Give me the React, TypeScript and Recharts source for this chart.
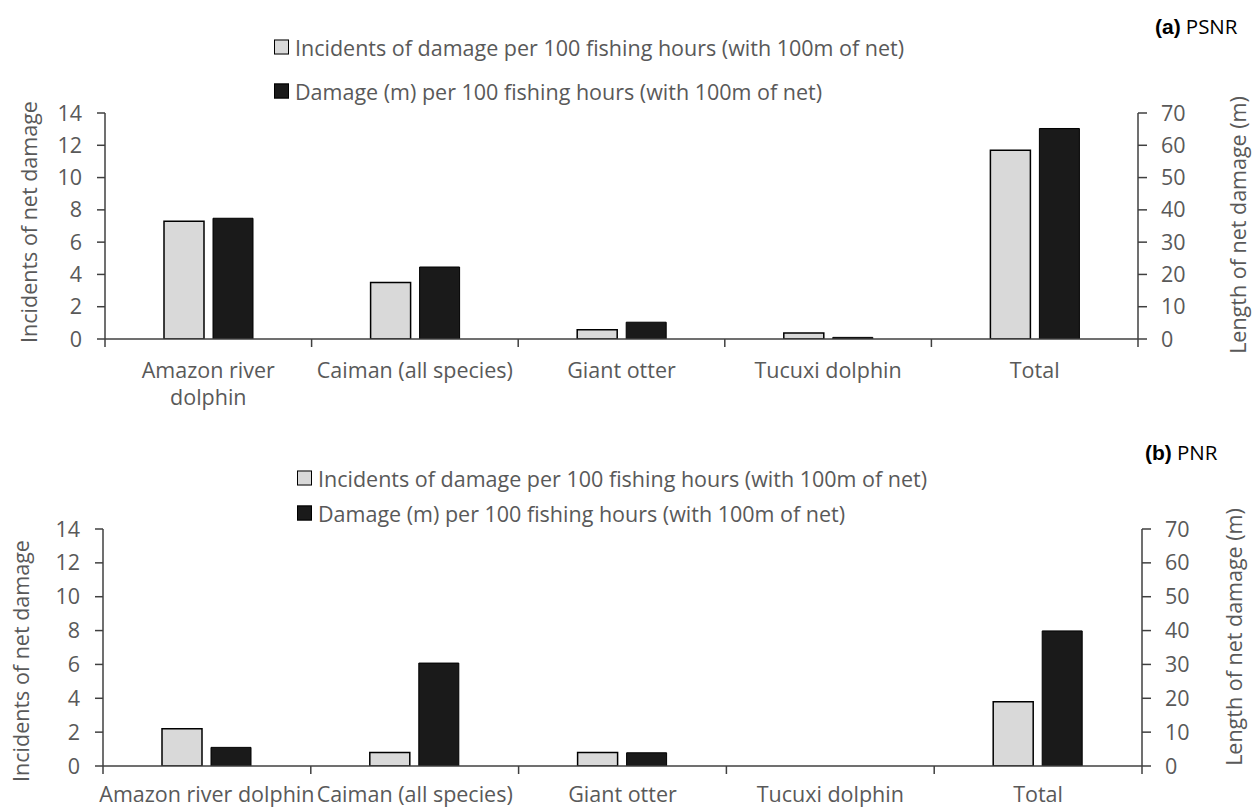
import React from "react";
import { BarChart, Bar, XAxis, YAxis } from "recharts";

const categories = ["Amazon river dolphin", "Caiman (all species)", "Giant otter", "Tucuxi dolphin", "Total"];

// (a) PSNR
const psnrIncidents = [7.3, 3.5, 0.58, 0.37, 11.7];
const psnrDamage = [37.4, 22.3, 5.2, 0.5, 65.2];

// (b) PNR
const pnrIncidents = [2.2, 0.8, 0.8, 0, 3.8];
const pnrDamage = [5.5, 30.4, 3.9, 0, 39.9];

const leftTicks = [0, 2, 4, 6, 8, 10, 12, 14];
const rightTicks = [0, 10, 20, 30, 40, 50, 60, 70];

// panel (a) wraps the long category onto two lines
const wrappedLabels: Record<string, string[]> = {
  "Amazon river dolphin": ["Amazon river", "dolphin"],
};

const legendLabels = [
  "Incidents of damage per 100 fishing hours (with 100m of net)",
  "Damage (m) per 100 fishing hours (with 100m of net)",
];

const FONT = "'Open Sans', sans-serif";
const FS = 21.5;
const TEXT = "#595959";
const AXIS = "#404040";
const GREY = "#d9d9d9";
const BLACK = "#1a1a1a";

const tickStyle = { fill: TEXT, fontSize: FS, fontFamily: FONT };

function CategoryTick(props: any) {
  const { x, y, payload, index, wrap, count, dy } = props;
  const half = payload.offset || 0;
  const lines: string[] = (wrap && wrappedLabels[payload.value]) || [payload.value];
  return (
    <g>
      <line x1={x - half} x2={x - half} y1={y} y2={y + 8} stroke={AXIS} strokeWidth={1.5} />
      {index === count - 1 && (
        <line x1={x + half} x2={x + half} y1={y} y2={y + 8} stroke={AXIS} strokeWidth={1.5} />
      )}
      <text x={x} y={y + dy} textAnchor="middle" fill={TEXT} style={{ fontSize: FS, fontFamily: FONT }}>
        {lines.map((line, i) => (
          <tspan key={line} x={x} dy={i === 0 ? 0 : 27}>
            {line}
          </tspan>
        ))}
      </text>
    </g>
  );
}

function RotatedLabel({ cx, cy, children }: { cx: number; cy: number; children: React.ReactNode }) {
  return (
    <div
      style={{
        position: "absolute",
        left: cx,
        top: cy,
        transform: "translate(-50%, -50%) rotate(-90deg)",
        whiteSpace: "nowrap",
        fontFamily: FONT,
        fontSize: FS,
        color: TEXT,
      }}
    >
      {children}
    </div>
  );
}

function PanelLegend({ left, rows }: { left: number; rows: number[] }) {
  const fills = [GREY, BLACK];
  return (
    <>
      {legendLabels.map((label, i) => (
        <div
          key={label}
          style={{
            position: "absolute",
            left,
            top: rows[i],
            transform: "translateY(-50%)",
            display: "flex",
            alignItems: "center",
            gap: 6,
            fontFamily: FONT,
            fontSize: FS,
            color: TEXT,
            whiteSpace: "nowrap",
          }}
        >
          <div style={{ width: 13, height: 13, background: fills[i], border: "1px solid #000" }} />
          <span>{label}</span>
        </div>
      ))}
    </>
  );
}

function Panel(props: {
  top: number;
  height: number;
  margin: { top: number; right: number; bottom: number; left: number };
  xHeight: number;
  incidents: number[];
  damage: number[];
  wrap: boolean;
  labelDy: number;
}) {
  const data = categories.map((name, i) => ({
    name,
    incidents: props.incidents[i],
    damage: props.damage[i],
  }));
  return (
    <div style={{ position: "absolute", left: 0, top: props.top }}>
      <BarChart width={1257} height={props.height} data={data} margin={props.margin} barSize={40} barGap={9}>
        <XAxis
          dataKey="name"
          height={props.xHeight}
          axisLine={{ stroke: AXIS, strokeWidth: 1.5 }}
          tickLine={false}
          tickSize={0}
          tickMargin={0}
          interval={0}
          tick={<CategoryTick wrap={props.wrap} count={categories.length} dy={props.labelDy} />}
        />
        <YAxis
          yAxisId="left"
          orientation="left"
          width={60}
          domain={[0, 14]}
          ticks={leftTicks}
          interval={0}
          allowDataOverflow
          axisLine={{ stroke: AXIS, strokeWidth: 1.5 }}
          tickLine={{ stroke: AXIS, strokeWidth: 1.5 }}
          tickSize={8}
          tickMargin={15}
          tick={tickStyle}
        />
        <YAxis
          yAxisId="right"
          orientation="right"
          width={80}
          domain={[0, 70]}
          ticks={rightTicks}
          interval={0}
          allowDataOverflow
          axisLine={{ stroke: AXIS, strokeWidth: 1.5 }}
          tickLine={{ stroke: AXIS, strokeWidth: 1.5 }}
          tickSize={9}
          tickMargin={14}
          tick={tickStyle}
        />
        <Bar yAxisId="left" dataKey="incidents" fill={GREY} stroke="#000" strokeWidth={1.5} isAnimationActive={false} />
        <Bar yAxisId="right" dataKey="damage" fill={BLACK} stroke="#000" strokeWidth={1} isAnimationActive={false} />
      </BarChart>
    </div>
  );
}

function Title({ left, cy, tag, name }: { left: number; cy: number; tag: string; name: string }) {
  return (
    <div
      style={{
        position: "absolute",
        left,
        top: cy,
        transform: "translateY(-50%)",
        whiteSpace: "nowrap",
        color: "#000",
        fontSize: 20.5,
      }}
    >
      <span style={{ fontFamily: "'Liberation Sans', Arial, sans-serif", fontWeight: 700, fontSize: 21 }}>{tag}</span>{" "}
      <span style={{ fontFamily: FONT }}>{name}</span>
    </div>
  );
}

export default function App() {
  return (
    <div style={{ position: "absolute", left: 0, top: 0, width: 1257, height: 808, background: "#fff", overflow: "hidden" }}>
      <Panel
        top={0}
        height={420}
        margin={{ top: 113, right: 39, bottom: 21, left: 45 }}
        xHeight={60}
        incidents={psnrIncidents}
        damage={psnrDamage}
        wrap
        labelDy={39}
      />
      <Panel
        top={420}
        height={388}
        margin={{ top: 109, right: 35, bottom: 2, left: 43 }}
        xHeight={40}
        incidents={pnrIncidents}
        damage={pnrDamage}
        wrap={false}
        labelDy={36}
      />
      <PanelLegend left={274} rows={[47, 91]} />
      <PanelLegend left={297} rows={[478, 513]} />
      <RotatedLabel cx={28} cy={222}>Incidents of net damage</RotatedLabel>
      <RotatedLabel cx={1237} cy={225}>Length of net damage (m)</RotatedLabel>
      <RotatedLabel cx={20} cy={661}>Incidents of net damage</RotatedLabel>
      <RotatedLabel cx={1233} cy={637}>Length of net damage (m)</RotatedLabel>
      <Title left={1155} cy={26} tag="(a)" name="PSNR" />
      <Title left={1145} cy={452} tag="(b)" name="PNR" />
    </div>
  );
}
